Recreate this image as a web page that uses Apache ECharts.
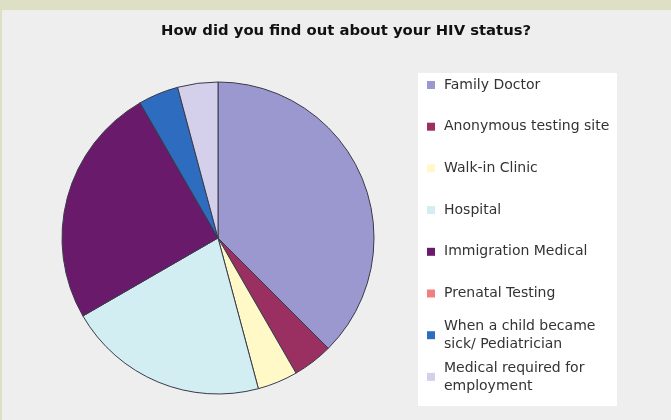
<!DOCTYPE html>
<html><head><meta charset="utf-8">
<script src="https://cdn.jsdelivr.net/npm/echarts@6/dist/echarts.min.js"></script>
<style>html,body{margin:0;padding:0;background:#dde0c4;}#c{width:671px;height:420px;}</style>
</head><body><div id="c"></div>
<script>
const titleText = 'How did you find out about your HIV status?';
const categories = ['Family Doctor','Anonymous testing site','Walk-in Clinic','Hospital','Immigration Medical','Prenatal Testing','When a child became\nsick/ Pediatrician','Medical required for\nemployment'];
const values = [9, 1, 1, 5, 6, 0, 1, 1];
const colors = ['#9b98d0','#9a3062','#fff9c8','#d2eef2','#6a1a6a','#f08080','#2e6cc0','#d4d0ec'];

const chart = echarts.init(document.getElementById('c'), null, {renderer:'canvas'});
const lineH = 18;
const legends = categories.map((name, i) => {
  const two = name.indexOf('\n') >= 0;
  const iconY = 85 + i * 41.7;
  return {
    data: [name],
    orient: 'vertical',
    left: 427,
    top: two ? iconY - (3*lineH)/2 : iconY - lineH/2,
    padding: 0,
    itemWidth: 8, itemHeight: 8,
    itemGap: 0,
    selectedMode: false,
    icon: 'rect',
    itemStyle: {borderWidth: 0},
    textStyle: {fontFamily:'DejaVu Sans', fontSize: 14, color:'#333', lineHeight: lineH,
      padding: two ? [lineH,0,0,4] : [0,0,0,4]}
  };
});
chart.setOption({
  animation: false,
  backgroundColor: 'transparent',
  graphic: [
    {type:'rect', shape:{x:2, y:10, width:669, height:410}, style:{fill:'#eeeeee'}, z:-10},
    {type:'rect', shape:{x:418, y:73, width:199, height:333}, style:{fill:'#ffffff'}, z:-5}
  ],
  title: {text: titleText, left: 156, top: 19,
    textStyle:{fontFamily:'DejaVu Sans', fontWeight:'bold', fontSize:14.8, color:'#111'}},
  legend: legends,
  series: [{
    type: 'pie',
    center: [218, 238],
    radius: 156,
    startAngle: 90,
    clockwise: true,
    label: {show:false}, labelLine:{show:false},
    itemStyle: {borderColor:'#3a3a4a', borderWidth: 1},
    emphasis: {disabled:true},
    data: categories.map((n,i)=>({name:n, value: values[i], itemStyle:{color: colors[i]}}))
  }]
});
</script></body></html>
